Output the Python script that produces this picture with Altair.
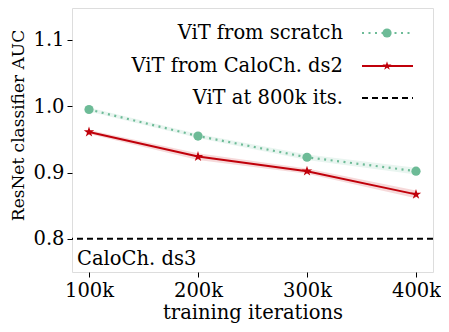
import altair as alt
import pandas as pd

iterations = [100000, 200000, 300000, 400000]
scratch_auc = [0.995, 0.955, 0.923, 0.902]
scratch_err = [0.003, 0.003, 0.004, 0.005]
finetune_auc = [0.961, 0.924, 0.902, 0.867]
finetune_err = [0.003, 0.005, 0.004, 0.006]
baseline_auc = 0.8
series_names = ["ViT from scratch", "ViT from CaloCh. ds2", "ViT at 800k its."]
tick_labels = {100000: "100k", 200000: "200k", 300000: "300k", 400000: "400k"}

GREEN = "#6dbb97"
RED = "#c0000a"
FONT = "DejaVu Serif"
FS = 19.5

def frame(vals, errs, name):
    return pd.DataFrame({
        "it": iterations,
        "auc": vals,
        "lo": [v - e for v, e in zip(vals, errs)],
        "hi": [v + e for v, e in zip(vals, errs)],
        "series": name,
    })

df_s = frame(scratch_auc, scratch_err, series_names[0])
df_f = frame(finetune_auc, finetune_err, series_names[1])
df_b = pd.DataFrame({"auc": [baseline_auc]})

label_expr = "datum.value == 100000 ? '100k' : datum.value == 200000 ? '200k' : datum.value == 300000 ? '300k' : '400k'"

x = alt.X("it:Q", scale=alt.Scale(domain=[84400, 415600], nice=False, zero=False),
          axis=alt.Axis(values=iterations, labelExpr=label_expr, title="training iterations",
                        grid=False, tickSize=5, labelFontSize=FS, titleFontSize=FS,
                        labelFont=FONT, titleFont=FONT, labelColor="black", titleColor="black",
                        tickColor="black", domain=False, labelPadding=4, titlePadding=4,
                        titleFontWeight="normal", labelFlush=False))
y = alt.Y("auc:Q", scale=alt.Scale(domain=[0.75, 1.148], nice=False, zero=False),
          axis=alt.Axis(values=[0.8, 0.9, 1.0, 1.1], format=".1f", title="ResNet classifier AUC",
                        grid=False, tickSize=5, labelFontSize=FS, titleFontSize=17,
                        labelFont=FONT, titleFont=FONT, labelColor="black", titleColor="black",
                        tickColor="black", domain=False, labelPadding=3, titlePadding=5,
                        titleY=117, titleFontWeight="normal", labelFlush=False))

def band(df, color):
    return alt.Chart(df).mark_area(color=color, opacity=0.15).encode(
        x=x, y=alt.Y("lo:Q", scale=alt.Scale(domain=[0.75, 1.148], nice=False, zero=False)), y2="hi:Q")

STAR = "M0,-1L0.2245,-0.309L0.951,-0.309L0.363,0.118L0.588,0.809L0,0.382L-0.588,0.809L-0.363,0.118L-0.951,-0.309L-0.2245,-0.309Z"

band_s = band(df_s, GREEN)
band_f = band(df_f, RED)
line_s = alt.Chart(df_s).mark_line(color=GREEN, strokeWidth=2.2, strokeDash=[2, 4.5]).encode(x=x, y=y)
pts_s = alt.Chart(df_s).mark_point(color=GREEN, filled=True, opacity=1, size=85, shape="circle").encode(x=x, y=y)
line_f = alt.Chart(df_f).mark_line(color=RED, strokeWidth=2).encode(x=x, y=y)
pts_f = alt.Chart(df_f).mark_point(color=RED, filled=True, opacity=1, size=120, shape=STAR).encode(x=x, y=y)
base = alt.Chart(df_b).mark_rule(color="black", strokeWidth=2, strokeDash=[6, 4]).encode(y=y)

txt = alt.Chart(pd.DataFrame({"t": ["CaloCh. ds3"]})).mark_text(
    font=FONT, fontSize=FS, align="left", baseline="alphabetic", color="black"
).encode(text="t:N", x=alt.value(5), y=alt.value(257))

legend_layers = []
row_y = [25, 58, 90]
for i, name in enumerate(series_names):
    legend_layers.append(
        alt.Chart(pd.DataFrame({"t": [name]})).mark_text(
            font=FONT, fontSize=FS, align="right", baseline="middle", color="black"
        ).encode(text="t:N", x=alt.value(271), y=alt.value(row_y[i]))
    )
leg_s_line = alt.Chart(pd.DataFrame({"a": [0]})).mark_rule(color=GREEN, strokeWidth=2.2, strokeDash=[2, 4.5]).encode(
    x=alt.value(290), x2=alt.value(341), y=alt.value(row_y[0]))
leg_s_pt = alt.Chart(pd.DataFrame({"a": [0]})).mark_point(color=GREEN, filled=True, opacity=1, size=85, shape="circle").encode(
    x=alt.value(315), y=alt.value(row_y[0]))
leg_f_line = alt.Chart(pd.DataFrame({"a": [0]})).mark_rule(color=RED, strokeWidth=2).encode(
    x=alt.value(290), x2=alt.value(341), y=alt.value(row_y[1]))
leg_f_pt = alt.Chart(pd.DataFrame({"a": [0]})).mark_point(color=RED, filled=True, opacity=1, size=90, shape=STAR).encode(
    x=alt.value(315), y=alt.value(row_y[1]))
leg_b_line = alt.Chart(pd.DataFrame({"a": [0]})).mark_rule(color="black", strokeWidth=2, strokeDash=[6, 4]).encode(
    x=alt.value(290), x2=alt.value(341), y=alt.value(row_y[2]))

chart = alt.layer(
    band_s, band_f, base, line_s, line_f, pts_s, pts_f, txt,
    *legend_layers, leg_s_line, leg_s_pt, leg_f_line, leg_f_pt, leg_b_line
).properties(
    width=361, height=264,
    autosize=alt.AutoSizeParams(type="none"),
    padding={"left": 64, "top": 0, "right": 8, "bottom": 60},
).configure_view(stroke="black", strokeWidth=1.5).configure(background="white")

chart.save("out.html", embed_options={"renderer": "svg", "actions": False})
